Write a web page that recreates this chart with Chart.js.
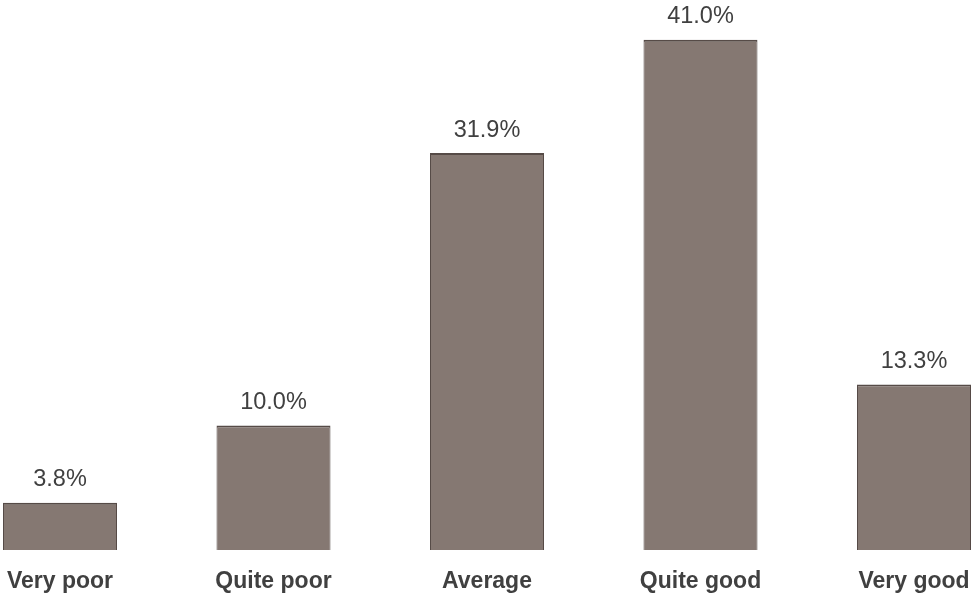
<!DOCTYPE html>
<html>
<head>
<meta charset="utf-8">
<script src="https://cdn.jsdelivr.net/npm/chart.js@4"></script>
<style>
  html, body { margin: 0; padding: 0; background: #fff; }
  #wrap { width: 972px; height: 596px; }
</style>
</head>
<body>
<div id="wrap"><canvas id="ratingChart"></canvas></div>
<script>
// categories and values
const categories = ['Very poor', 'Quite poor', 'Average', 'Quite good', 'Very good'];
const shares = [3.8, 10.0, 31.9, 41.0, 13.3];

// value labels above each bar
const valueLabels = {
    id: 'valueLabels',
    afterDatasetsDraw(chart) {
        const ctx = chart.ctx;
        const meta = chart.getDatasetMeta(0);
        ctx.save();
        ctx.font = '23.5px "Liberation Sans", Arial, sans-serif';
        ctx.fillStyle = '#404040';
        ctx.textAlign = 'center';
        ctx.textBaseline = 'middle';
        meta.data.forEach((bar, i) => {
            ctx.fillText(shares[i].toFixed(1) + '%', bar.x, bar.y - 23);
        });
        ctx.restore();
    }
};

const ctx = document.getElementById('ratingChart').getContext('2d');
new Chart(ctx, {
    type: 'bar',
    data: {
        labels: categories,
        datasets: [{
            data: shares,
            backgroundColor: '#857872',
            borderColor: '#564b47',
            borderWidth: { top: 2, left: 1, right: 1, bottom: 0 },
            borderSkipped: 'bottom',
            categoryPercentage: 1,
            barPercentage: 0.534,
            clip: false
        }]
    },
    options: {
        responsive: true,
        maintainAspectRatio: false,
        animation: false,
        layout: { padding: { left: 60, right: 58, top: 0, bottom: 0 } },
        plugins: {
            legend: { display: false },
            tooltip: { enabled: false }
        },
        scales: {
            x: {
                offset: false,
                grid: { display: false, drawTicks: false },
                border: { display: false },
                ticks: {
                    padding: 18,
                    color: '#404040',
                    maxRotation: 0,
                    autoSkip: false,
                    font: { family: '"Liberation Sans", Arial, sans-serif', size: 23, weight: 'bold' }
                },
                afterFit(scale) {
                    scale.height = 46;
                    scale.paddingLeft = 0;
                    scale.paddingRight = 0;
                }
            },
            y: {
                display: false,
                min: 0,
                max: 44.2
            }
        }
    },
    plugins: [valueLabels]
});
</script>
</body>
</html>
